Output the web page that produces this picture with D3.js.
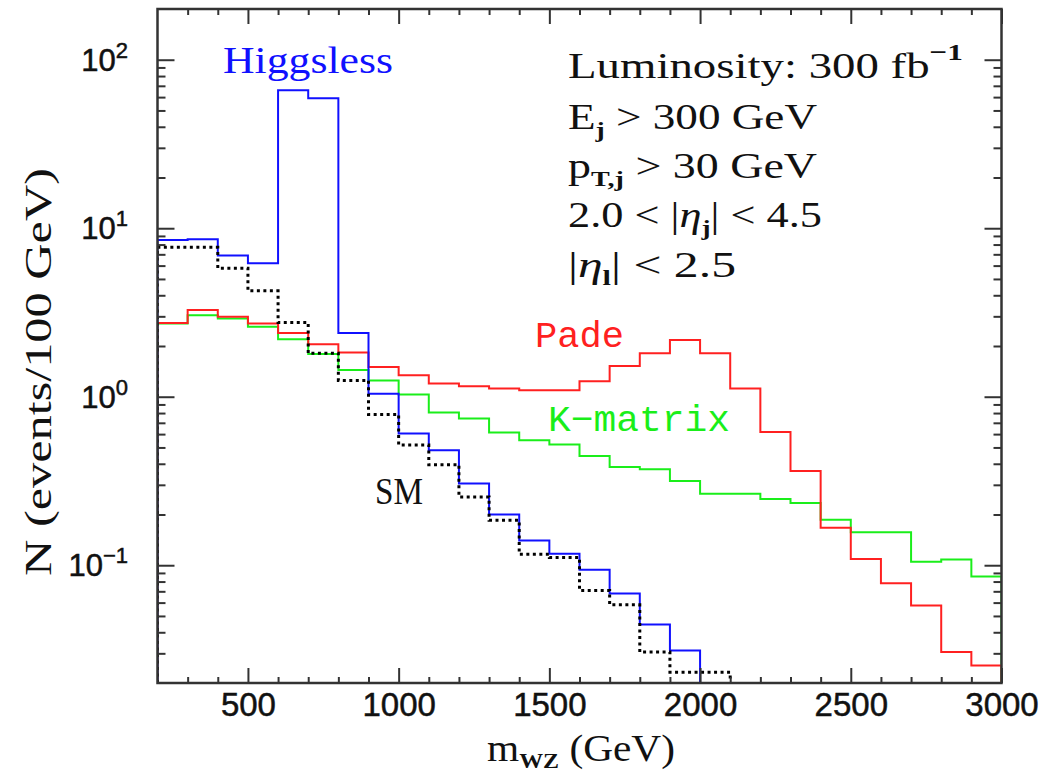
<!DOCTYPE html>
<html>
<head>
<meta charset="utf-8">
<script src="https://cdn.jsdelivr.net/npm/d3@7"></script>
<style>
  html, body { margin: 0; padding: 0; background: #fff; }
  svg { display: block; }
</style>
</head>
<body>
<svg id="chart" width="1043" height="775"></svg>
<script>
// ---------- data ----------
const binStart = 200;      // GeV, first bin lower edge
const binWidth = 100;      // GeV
const xTickValues = [500, 1000, 1500, 2000, 2500, 3000];
const yTickExponents = [-1, 0, 1, 2];

const higgsless = [8.5, 8.6, 6.9, 6.2, 66, 59, 2.39, 1.04, 0.604, 0.481, 0.305, 0.200,
                   0.140, 0.117, 0.094, 0.068, 0.0445, 0.0312];
const sm = [7.7, 7.7, 5.78, 4.25, 2.76, 1.81, 1.25, 0.784, 0.517, 0.395, 0.254, 0.185,
            0.116, 0.111, 0.0708, 0.0582, 0.0305, 0.0232, 0.0232];
const pade = [2.74, 3.27, 2.98, 2.72, 2.39, 2.05, 1.83, 1.50, 1.34, 1.20, 1.154, 1.12,
              1.093, 1.093, 1.236, 1.52, 1.81, 2.17, 1.81, 1.12, 0.618, 0.362, 0.167,
              0.109, 0.0783, 0.0577, 0.0305, 0.0254];
const kmatrix = [2.72, 3.04, 2.91, 2.60, 2.19, 1.79, 1.44, 1.25, 1.03, 0.806, 0.742, 0.613,
                 0.551, 0.520, 0.445, 0.383, 0.371, 0.316, 0.266, 0.266, 0.247, 0.234,
                 0.186, 0.157, 0.157, 0.105, 0.108, 0.0858];

// ---------- layout ----------
const svg = d3.select("#chart");
const L = 157.5, R = 1001.5, T = 9, B = 683;
const x = d3.scaleLinear().domain([200, 3000]).range([L, R]);
const y = d3.scaleLog().domain([0.02, 200]).range([B, T]);
const axisColor = "#333";

svg.append("defs").append("clipPath").attr("id", "clip")
  .append("rect").attr("x", L).attr("y", T).attr("width", R - L).attr("height", B - T);

// ---------- histograms ----------
function histPath(vals) {
  const pts = [[x(binStart), y(0.02)]];
  vals.forEach((v, i) => {
    const lo = binStart + i * binWidth, hi = lo + binWidth;
    pts.push([x(lo), y(v)], [x(hi), y(v)]);
  });
  pts.push([x(binStart + vals.length * binWidth), y(0.02)]);
  return d3.line()(pts);
}
const g = svg.append("g").attr("clip-path", "url(#clip)");
const series = [
  {vals: kmatrix, color: "#1aee1a", dash: null, w: 2},
  {vals: pade, color: "#ff2020", dash: null, w: 2},
  {vals: higgsless, color: "#1010ff", dash: null, w: 2},
  {vals: sm, color: "#000", dash: "3,3.5", w: 3}
];
series.forEach(s => {
  g.append("path").attr("d", histPath(s.vals))
    .attr("fill", "none").attr("stroke", s.color).attr("stroke-width", s.w)
    .attr("stroke-dasharray", s.dash).attr("stroke-linejoin", "miter");
});

// ---------- axes ----------
const xMinor = d3.range(300, 3000, 100).filter(v => v % 500 !== 0);
const yMajor = yTickExponents.map(e => Math.pow(10, e));
const yMinor = [];
for (let e = -2; e <= 2; e++) for (let k = 2; k <= 9; k++) {
  const v = k * Math.pow(10, e);
  if (v > 0.02 && v < 200) yMinor.push(v);
}

function styleAxis(sel) {
  sel.select(".domain").remove();
  sel.selectAll("line").attr("stroke", axisColor).attr("stroke-width", 2);
}
svg.append("g").attr("transform", `translate(0,${B})`)
  .call(d3.axisBottom(x).tickValues(xTickValues).tickSizeInner(-15).tickSizeOuter(0)
        .tickPadding(10).tickFormat(d3.format("d")))
  .call(styleAxis)
  .call(s => s.selectAll("text").attr("font-family", "Liberation Sans, Arial, sans-serif")
    .attr("font-size", 33).attr("fill", "#111").attr("stroke", "#111").attr("stroke-width", 0.5));
svg.append("g").attr("transform", `translate(0,${B})`)
  .call(d3.axisBottom(x).tickValues(xMinor).tickSize(-6).tickFormat(""))
  .call(styleAxis);
svg.append("g").attr("transform", `translate(0,${T})`)
  .call(d3.axisTop(x).tickValues(xTickValues).tickSize(-15).tickFormat(""))
  .call(styleAxis);
svg.append("g").attr("transform", `translate(0,${T})`)
  .call(d3.axisTop(x).tickValues(xMinor).tickSize(-6).tickFormat(""))
  .call(styleAxis);
svg.append("g").attr("transform", `translate(${L},0)`)
  .call(d3.axisLeft(y).tickValues(yMajor).tickSize(-17).tickFormat(""))
  .call(styleAxis);
svg.append("g").attr("transform", `translate(${L},0)`)
  .call(d3.axisLeft(y).tickValues(yMinor).tickSize(-8).tickFormat(""))
  .call(styleAxis);
svg.append("g").attr("transform", `translate(${R},0)`)
  .call(d3.axisRight(y).tickValues(yMajor).tickSize(-17).tickFormat(""))
  .call(styleAxis);
svg.append("g").attr("transform", `translate(${R},0)`)
  .call(d3.axisRight(y).tickValues(yMinor).tickSize(-8).tickFormat(""))
  .call(styleAxis);

svg.append("rect").attr("x", L).attr("y", T).attr("width", R - L).attr("height", B - T)
  .attr("fill", "none").attr("stroke", axisColor).attr("stroke-width", 2.5);

// y tick labels
yTickExponents.forEach(e => {
  const t = svg.append("text").attr("x", 128).attr("y", y(Math.pow(10, e)) + 11)
    .attr("text-anchor", "end").attr("font-family", "Liberation Sans, Arial, sans-serif")
    .attr("fill", "#111").attr("stroke", "#111").attr("stroke-width", 0.5);
  t.append("tspan").attr("font-size", 31).text("10");
  t.append("tspan").attr("font-size", 22).attr("dy", -13).text(e < 0 ? "\u2212" + (-e) : String(e));
});

// axis titles
const serif = "Liberation Serif, 'DejaVu Serif', serif";
const xt = svg.append("text").attr("x", 487).attr("y", 761).attr("font-family", serif)
  .attr("font-size", 38).attr("fill", "#111").attr("textLength", 188).attr("lengthAdjust", "spacingAndGlyphs");
xt.append("tspan").text("m");
xt.append("tspan").attr("font-size", 22).attr("font-weight", "bold").attr("dy", 7).text("WZ");
xt.append("tspan").attr("dy", -7).text(" (GeV)");

svg.append("text").attr("transform", "translate(51,372) rotate(-90)")
  .attr("text-anchor", "middle").attr("font-family", serif).attr("font-size", 38)
  .attr("fill", "#111").attr("textLength", 408).attr("lengthAdjust", "spacingAndGlyphs")
  .text("N (events/100 GeV)");

// ---------- labels ----------
svg.append("text").attr("x", 223).attr("y", 73).attr("font-family", serif).attr("font-size", 37)
  .attr("fill", "#1010ff").attr("textLength", 170).attr("lengthAdjust", "spacingAndGlyphs").text("Higgsless");

const mono = "Liberation Mono, 'DejaVu Sans Mono', monospace";
svg.append("text").attr("x", 535).attr("y", 347).attr("font-family", mono).attr("font-size", 37)
  .attr("fill", "#ff2020").attr("textLength", 89).attr("lengthAdjust", "spacingAndGlyphs").text("Pade");
svg.append("text").attr("x", 548).attr("y", 431).attr("font-family", mono).attr("font-size", 37)
  .attr("fill", "#1aee1a").attr("textLength", 182).attr("lengthAdjust", "spacingAndGlyphs").text("K\u2212matrix");
svg.append("text").attr("x", 375).attr("y", 504).attr("font-family", serif).attr("font-size", 37)
  .attr("fill", "#111").attr("textLength", 48).attr("lengthAdjust", "spacingAndGlyphs").text("SM");

// cuts annotation
const ax = 568;
function line(yb, len) {
  return svg.append("text").attr("x", ax).attr("y", yb).attr("font-family", serif)
    .attr("font-size", 36).attr("fill", "#111").attr("textLength", len).attr("lengthAdjust", "spacingAndGlyphs");
}
let t1 = line(78, 395);
t1.append("tspan").text("Luminosity: 300 fb");
t1.append("tspan").attr("font-size", 24).attr("font-weight", "bold").attr("dy", -18).text("\u22121");

let t2 = line(129, 249);
t2.append("tspan").text("E");
t2.append("tspan").attr("font-size", 22).attr("font-weight", "bold").attr("dy", 8).text("j");
t2.append("tspan").attr("dy", -8).text(" > 300 GeV");

let t3 = line(178, 249);
t3.append("tspan").text("p");
t3.append("tspan").attr("font-size", 22).attr("font-weight", "bold").attr("dy", 8).text("T,j");
t3.append("tspan").attr("dy", -8).text(" > 30 GeV");

let t4 = line(227, 254);
t4.append("tspan").text("2.0 < |");
t4.append("tspan").attr("font-style", "italic").text("\u03b7");
t4.append("tspan").attr("font-size", 22).attr("font-weight", "bold").attr("dy", 8).text("j");
t4.append("tspan").attr("dy", -8).text("| < 4.5");

let t5 = line(277, 168);
t5.append("tspan").text("|");
t5.append("tspan").attr("font-style", "italic").text("\u03b7");
t5.append("tspan").attr("font-size", 22).attr("font-weight", "bold").attr("dy", 8).text("l");
t5.append("tspan").attr("dy", -8).text("| < 2.5");
</script>
</body>
</html>
